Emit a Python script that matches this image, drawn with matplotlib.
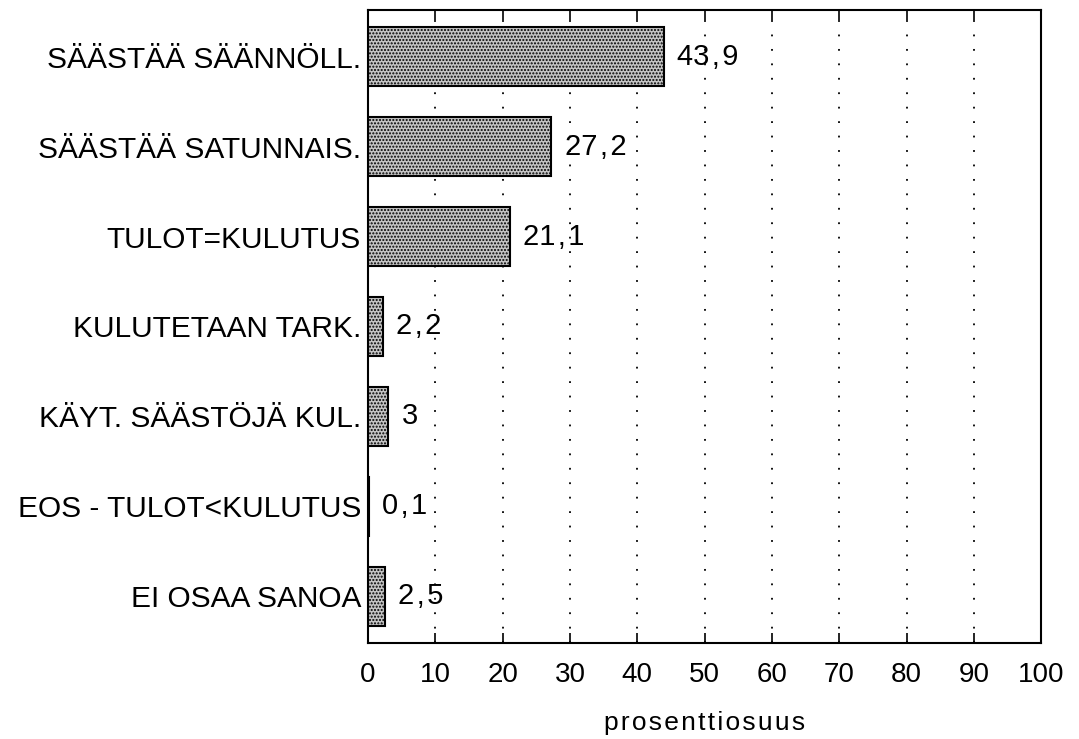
import matplotlib.pyplot as plt
import numpy as np

# data
categories = ['SÄÄSTÄÄ SÄÄNNÖLL.', 'SÄÄSTÄÄ SATUNNAIS.', 'TULOT=KULUTUS',
              'KULUTETAAN TARK.', 'KÄYT. SÄÄSTÖJÄ KUL.', 'EOS - TULOT<KULUTUS',
              'EI OSAA SANOA']
values = [43.9, 27.2, 21.1, 2.2, 3.0, 0.1, 2.5]
value_labels = ['43,9', '27,2', '21,1', '2,2', '3', '0,1', '2,5']
xticks = list(range(0, 101, 10))

plt.rcParams['font.family'] = ['Liberation Sans', 'DejaVu Sans']
plt.rcParams['hatch.color'] = '#606060'
plt.rcParams['hatch.linewidth'] = 1.0

fig = plt.figure(figsize=(10.79, 7.39), dpi=100)
ax = fig.add_axes([0.341, 0.130, 0.624, 0.8565])

y = np.arange(len(categories))
ax.barh(y, values, height=0.66, color='#c4c4c4', edgecolor='black',
        linewidth=1.5, hatch='.....', zorder=3)

for yi, v, lab in zip(y, values, value_labels):
    ax.text(v + 2.0, yi, lab.replace(',', '\u200a,\u200a'), va='center', ha='left',
            fontsize=21, zorder=4)

ax.set_xlim(0, 100)
ax.set_ylim(6.52, -0.52)
ax.set_yticks(y)
ax.set_yticklabels(categories, fontsize=21.5)
ax.tick_params(axis='y', length=0, pad=5)
ax.set_xticks(xticks)
ax.tick_params(axis='x', direction='in', length=7, width=1.2, top=True,
               labelsize=20, pad=14)
ax.set_xticklabels([str(t) for t in xticks])
ax.xaxis.grid(True, linestyle=(0, (1, 7)), color='black', linewidth=1.3)
ax.set_axisbelow(True)
for s in ax.spines.values():
    s.set_linewidth(1.5)

ax.set_xlabel('\u200a'.join('prosenttiosuus'), fontsize=19, labelpad=16)

fig.savefig('out.png', dpi=100)
